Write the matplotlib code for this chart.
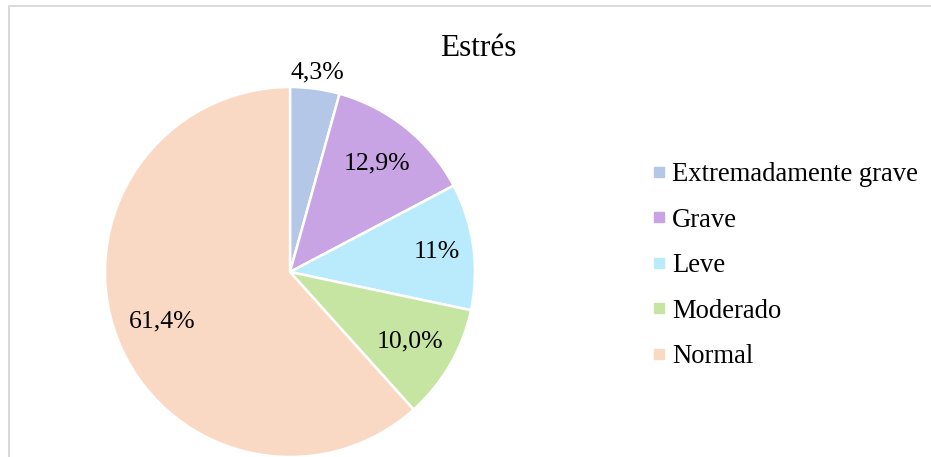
import matplotlib
matplotlib.use("Agg")
import matplotlib.pyplot as plt
from matplotlib.patches import Rectangle
from matplotlib.lines import Line2D
import numpy as np

categories = ["Extremadamente grave", "Grave", "Leve", "Moderado", "Normal"]
values = [4.3, 12.9, 11.0, 10.0, 61.4]
value_labels = ["4,3%", "12,9%", "11%", "10,0%", "61,4%"]
colors = ["#B4C7E7", "#C8A4E4", "#BAEBFC", "#C6E5A2", "#F9D9C3"]
title = "Estrés"

plt.rcParams['font.family'] = ['Liberation Serif', 'DejaVu Serif']

W, H = 931, 457
fig = plt.figure(figsize=(W/100, H/100), dpi=100)

# frame border
fig.patches.append(Rectangle((9/W, -0.1), 1.2, 1 - 6/H + 0.1, transform=fig.transFigure,
                             fill=False, edgecolor="#D9D9D9", linewidth=1.4))

cx, cy, r = 290, 272, 185
ax = fig.add_axes([(cx - r)/W, (H - cy - r)/H, 2*r/W, 2*r/H])
wedges, _ = ax.pie(values, colors=colors, startangle=90, counterclock=False,
                   wedgeprops=dict(edgecolor="white", linewidth=1.8), radius=1.0)
ax.set_xlim(-1, 1)
ax.set_ylim(-1, 1)
ax.set_aspect("equal")
ax.axis("off")

dists = [1.09, 0.75, 0.80, 0.75, 0.74]
for w, lab, d in zip(wedges, value_labels, dists):
    ang = np.deg2rad((w.theta1 + w.theta2) / 2)
    ax.text(d*np.cos(ang), d*np.sin(ang), lab, ha="center", va="center",
            fontsize=18.5, color="#000000", clip_on=False)

fig.text(478/W, 1 - 48/H, title, ha="center", va="center", fontsize=22.5)

handles = [Line2D([0], [0], marker="s", linestyle="none", markersize=6.5,
                  markerfacecolor=c, markeredgecolor=c) for c in colors]
leg = fig.legend(handles, categories, loc="upper left", bbox_to_anchor=(651/W, 1 - 162/H),
                 frameon=False, fontsize=19.2, handlelength=0.6, handletextpad=0.2,
                 labelspacing=0.77, borderpad=0, borderaxespad=0)

fig.savefig("out.png", dpi=100)
